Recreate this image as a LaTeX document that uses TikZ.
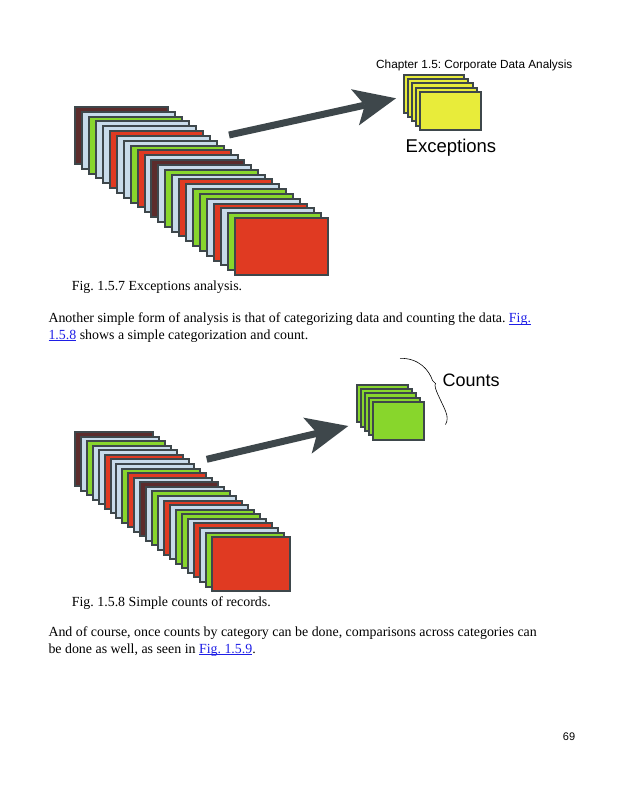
\documentclass[tikz,border=0pt]{standalone}
\usepackage{fontspec}
\setmainfont{Liberation Serif}
\newfontfamily\arialfont{Liberation Sans}
\usetikzlibrary{arrows.meta}
\frenchspacing

\definecolor{edgegray}{RGB}{62,71,75}
\definecolor{rbrown}{RGB}{92,44,44}
\definecolor{rblue}{RGB}{200,219,234}
\definecolor{rgreen}{RGB}{136,214,44}
\definecolor{rred}{RGB}{224,58,34}
\definecolor{ryellow}{RGB}{232,236,58}
\definecolor{linkblue}{RGB}{30,30,230}

% blue link text, underlined just under the baseline
\newcommand\doclink[1]{\textcolor{linkblue}{\setbox0\hbox{#1}\rlap{\rule[-1.6pt]{\wd0}{0.7pt}}\box0}}

\tikzset{
  record/.style={draw=edgegray, line width=2pt, inner sep=0pt, anchor=north west},
  bigrec/.style={record, minimum width=93pt, minimum height=57pt},
  midrec/.style={record, minimum width=78pt, minimum height=54pt},
  exrec/.style={record, minimum width=60.5pt, minimum height=38pt},
  cntrec/.style={record, minimum width=51pt, minimum height=37.5pt},
  bigarrow/.style={draw=edgegray, line width=7pt,
    -{Stealth[length=42pt, width=37pt, inset=10pt, line width=0pt]}},
  bodytext/.style={anchor=base west, inner sep=0pt, font=\fontsize{13.9}{16.6}\selectfont},
  sanstext/.style={anchor=base west, inner sep=0pt, font=\arialfont\fontsize{#1}{#1}\selectfont}
}

\begin{document}
\begin{tikzpicture}[x=1pt, y=-1pt, line join=miter]
  \useasboundingbox (0,0) rectangle (617,800);

  \node[sanstext=11.8] (header) at (376,68.3) {Chapter 1.5: Corporate Data Analysis};

  % all records, back to front
  \foreach \c [count=\i] in {rbrown,rblue,rgreen,rblue,rblue,rred,rblue,rblue,rgreen,rred,
      rblue,rbrown,rblue,rgreen,rblue,rred,rblue,rgreen,rgreen,rblue,rred,rblue,rgreen,rred}
    \node[bigrec, fill=\c] (all-\i) at ({73.7+(\i-1)*6.98},{106+(\i-1)*4.83}) {};

  % the exceptions only
  \foreach \i in {1,...,5}
    \node[exrec, fill=ryellow] (exc-\i) at ({402.7+(\i-1)*4.15},{73.7+(\i-1)*4.33}) {};

  \coordinate (exc-from) at (229,135);
  \coordinate (exc-to) at (396,98.3);
  \draw[bigarrow] (exc-from) -- (exc-to);

  \node[sanstext=18.5] (exc-label) at (405.5,152) {Exceptions};

  \node[bodytext] (cap-exc) at (71.7,290) {Fig. 1.5.7 Exceptions analysis.};
  \node[bodytext] (par-a1) at (48.3,322.7)
    {Another simple form of analysis is that of categorizing data and counting the data. \doclink{Fig.}};
  \node[bodytext] (par-a2) at (48.3,339.3) {\doclink{1.5.8} shows a simple categorization and count.};

  % records again, counted by category
  \foreach \c [count=\i] in {rbrown,rblue,rgreen,rblue,rblue,rred,rblue,rblue,rgreen,rred,
      rblue,rbrown,rblue,rgreen,rblue,rred,rblue,rgreen,rgreen,rblue,rred,rblue,rgreen,rred}
    \node[midrec, fill=\c] (rec-\i) at ({73.7+(\i-1)*5.97},{431+(\i-1)*4.57}) {};

  \foreach \i in {1,...,5}
    \node[cntrec, fill=rgreen] (cnt-\i) at ({356+(\i-1)*3.92},{383.7+(\i-1)*4.33}) {};

  \coordinate (cnt-from) at (206.7,459.3);
  \coordinate (cnt-to) at (348.3,426);
  \draw[bigarrow] (cnt-from) -- (cnt-to);

  % hand drawn brace
  \draw[line width=0.6pt] (400,358.3) .. controls (419,358) and (429,370) .. (432.5,380.5)
    -- (435.5,383.5) .. controls (433,387) and (441,400) .. (445.5,411)
    .. controls (448,417) and (447.5,421) .. (445.5,424.5);
  \node[sanstext=18] (cnt-label) at (442.5,386.7) {Counts};

  \node[bodytext] (cap-cnt) at (71.7,606) {Fig. 1.5.8 Simple counts of records.};
  \node[bodytext] (par-b1) at (48.3,636.7)
    {And of course, once counts by category can be done, comparisons across categories can};
  \node[bodytext] (par-b2) at (48.3,653.5) {be done as well, as seen in \doclink{Fig. 1.5.9}.};

  \node[sanstext=11] (pageno) at (562.7,740) {69};
\end{tikzpicture}
\end{document}
